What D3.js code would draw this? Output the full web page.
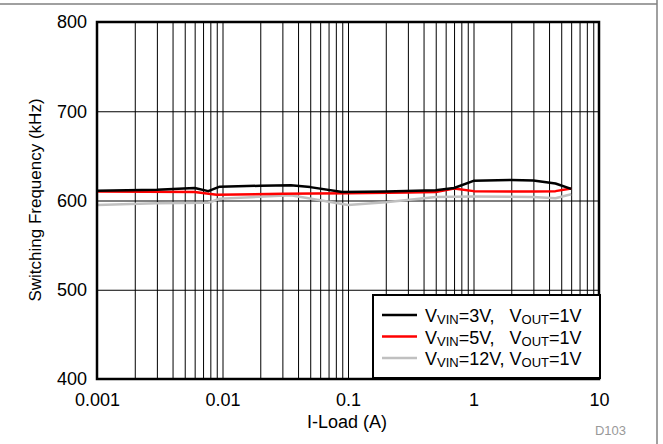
<!DOCTYPE html>
<html>
<head>
<meta charset="utf-8">
<script src="https://cdn.jsdelivr.net/npm/d3@7"></script>
<style>
  body { margin: 0; background: #fff; }
  svg { display: block; font-family: "Liberation Sans", Arial, sans-serif; }
  .axis path { display: none; }
  .grid line { stroke: #000; stroke-width: 1; }
  .lbl text { font-size: 18px; fill: #000; }
</style>
</head>
<body>
<svg id="chart" width="663" height="444"></svg>
<script>
// series (load in A, frequency in kHz)
var load3V = [0.001, 0.003, 0.006, 0.0077, 0.0095, 0.02, 0.035, 0.05, 0.09, 0.2, 0.5, 0.7, 1.0, 2.0, 3.0, 4.5, 6];
var freq3V = [611, 612, 614, 610.5, 615.5, 616.5, 617, 615, 609.5, 610, 611.5, 614, 622, 623, 622.5, 619, 613];

var load5V = [0.001, 0.006, 0.009, 0.03, 0.1, 0.3, 0.5, 0.7, 1.0, 3.0, 4.5, 6];
var freq5V = [610, 609.5, 606.5, 607.5, 608, 609, 609.5, 613.5, 610.5, 610, 610.5, 613.5];

var load12V = [0.001, 0.003, 0.0077, 0.0095, 0.035, 0.1, 0.2, 0.5, 1.0, 3.0, 4.5, 6];
var freq12V = [595, 597, 597.5, 602, 606, 595, 598, 604, 604.5, 604, 602.5, 607];

var xTicks = [0.001, 0.01, 0.1, 1, 10];
var xTickLabels = ['0.001', '0.01', '0.1', '1', '10'];
var yTicks = [400, 500, 600, 700, 800];

var series = [
  { vin: '3V', gap: '   ', color: '#000000', load: load3V, freq: freq3V },
  { vin: '5V', gap: '   ', color: '#ff0000', load: load5V, freq: freq5V },
  { vin: '12V', gap: ' ', color: '#c0c0c0', load: load12V, freq: freq12V }
];

var svg = d3.select('#chart');
var plotL = 97, plotR = 599, plotT = 22, plotB = 379;

var x = d3.scaleLog().domain([0.001, 10]).range([plotL, plotR]);
var y = d3.scaleLinear().domain([400, 800]).range([plotB, plotT]);

// outer border lines
svg.append('line').attr('x1', 0).attr('x2', 657).attr('y1', 4).attr('y2', 4)
  .attr('stroke', '#808080').attr('stroke-width', 1.5);
svg.append('line').attr('x1', 657).attr('x2', 657).attr('y1', 0).attr('y2', 444)
  .attr('stroke', '#808080').attr('stroke-width', 1.5);

// grid: every 1..9 of each decade
var minor = [];
[0.001, 0.01, 0.1, 1].forEach((d) => {
  for (var k = 1; k < 10; k++) minor.push(d * k);
});

svg.append('g').attr('class', 'axis grid')
  .attr('transform', `translate(0,${plotB})`)
  .call(d3.axisBottom(x).tickValues(minor).tickSize(-(plotB - plotT)).tickFormat(''));

svg.append('g').attr('class', 'axis grid')
  .attr('transform', `translate(${plotL},0)`)
  .call(d3.axisLeft(y).tickValues(yTicks).tickSize(-(plotR - plotL)).tickFormat(''));

// tick labels
svg.append('g').attr('class', 'axis lbl')
  .attr('transform', `translate(0,${plotB})`)
  .call(d3.axisBottom(x).tickValues(xTicks).tickSize(0).tickPadding(14)
    .tickFormat((d, i) => xTickLabels[i]));

svg.append('g').attr('class', 'axis lbl')
  .attr('transform', `translate(${plotL},0)`)
  .call(d3.axisLeft(y).tickValues(yTicks).tickSize(0).tickPadding(10));

// data lines
var line = d3.line()
  .x((d) => x(d[0]))
  .y((d) => y(d[1]));

series.slice().reverse().forEach((s) => {
  svg.append('path')
    .datum(s.load.map((l, i) => [l, s.freq[i]]))
    .attr('fill', 'none')
    .attr('stroke', s.color)
    .attr('stroke-width', 2.5)
    .attr('stroke-linejoin', 'round')
    .attr('d', line);
});

// plot frame
svg.append('rect')
  .attr('x', plotL).attr('y', plotT)
  .attr('width', plotR - plotL).attr('height', plotB - plotT)
  .attr('fill', 'none').attr('stroke', '#000').attr('stroke-width', 2.5);

// legend
var lg = svg.append('g');
lg.append('rect')
  .attr('x', 373).attr('y', 295).attr('width', 227).attr('height', 83)
  .attr('fill', '#fff').attr('stroke', '#000').attr('stroke-width', 2);

series.forEach((s, i) => {
  var ly = 315 + i * 21.5;
  lg.append('line')
    .attr('x1', 382).attr('x2', 417).attr('y1', ly).attr('y2', ly)
    .attr('stroke', s.color).attr('stroke-width', 2.5);

  var t = lg.append('text')
    .attr('x', 425).attr('y', ly + 7)
    .style('font-size', '18px').style('white-space', 'pre');
  t.append('tspan').text('V');
  t.append('tspan').attr('dy', 2).style('font-size', '13px').text('VIN');
  t.append('tspan').attr('dy', -2).text(`=${s.vin},${s.gap}V`);
  t.append('tspan').attr('dy', 2).style('font-size', '13px').text('OUT');
  t.append('tspan').attr('dy', -2).text('=1V');
});

// axis titles
svg.append('text')
  .attr('x', 347).attr('y', 428)
  .attr('text-anchor', 'middle')
  .style('font-size', '18px')
  .text('I-Load (A)');

svg.append('text')
  .attr('transform', 'translate(41,200) rotate(-90)')
  .attr('text-anchor', 'middle')
  .style('font-size', '17px')
  .text('Switching Frequency (kHz)');

svg.append('text')
  .attr('x', 626).attr('y', 435)
  .attr('text-anchor', 'end')
  .style('font-size', '13px')
  .attr('fill', '#999')
  .text('D103');
</script>
</body>
</html>
